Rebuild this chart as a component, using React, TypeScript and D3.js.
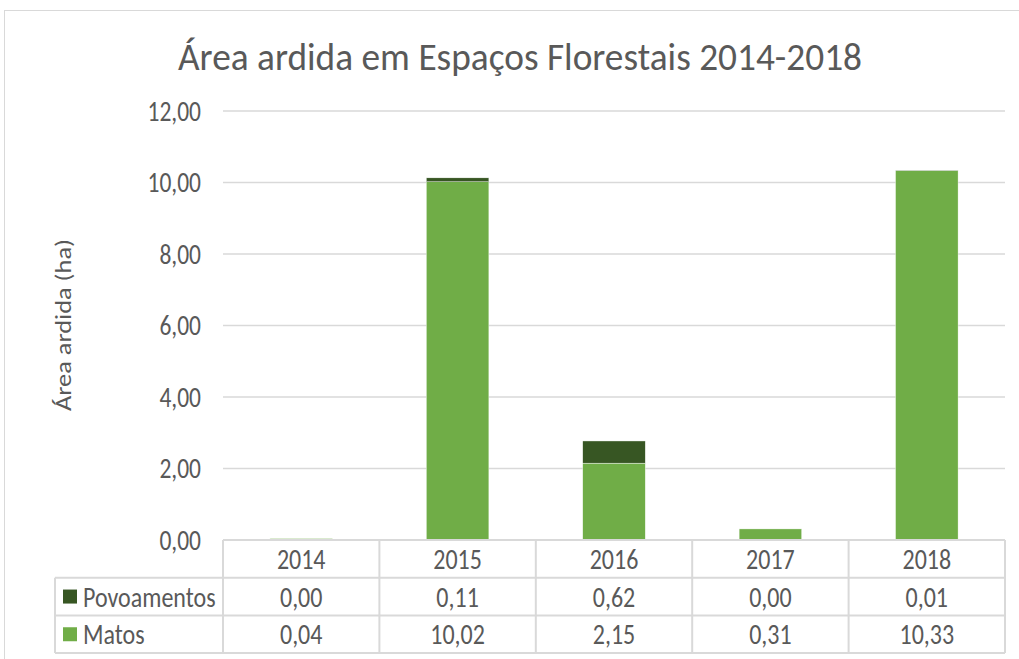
import React from "react";
import * as d3 from "d3";

const years = ["2014", "2015", "2016", "2017", "2018"];
const povoamentos = [0.0, 0.11, 0.62, 0.0, 0.01];
const matos = [0.04, 10.02, 2.15, 0.31, 10.33];
const yTicks = [0, 2, 4, 6, 8, 10, 12];
const seriesNames = ["Povoamentos", "Matos"];
const colors = { Povoamentos: "#375623", Matos: "#70AD47" };

const W = 1019;
const H = 659;
const FONT = "Carlito, Calibri, 'Liberation Sans', Arial, sans-serif";
const TXT = "#595959";
const GRID = "#d9d9d9";
const SY = 1.2;

const fmt = (v: number) => v.toFixed(2).replace(".", ",");

function T({ x, y, size, anchor = "start", rotate = 0, children, tl }: any) {
  return (
    <text
      transform={`translate(${x},${y}) rotate(${rotate}) scale(1,${SY})`}
      textAnchor={anchor}
      dy="0.35em"
      fontSize={size}
      fill={TXT}
      textLength={tl}
      lengthAdjust={tl ? "spacingAndGlyphs" : undefined}
    >
      {children}
    </text>
  );
}

export default function App() {
  const x = d3.scaleBand<string>().domain(years).range([223, 1005]).paddingInner(0.6).paddingOuter(0.3);
  const xc = d3.scaleBand<string>().domain(years).range([223, 1005]);
  const y = d3.scaleLinear().domain([0, 12]).range([540, 111]);

  const rows = years.map((yr, i) => ({ year: yr, Matos: matos[i], Povoamentos: povoamentos[i] }));
  const stack = d3.stack<any>().keys(["Matos", "Povoamentos"])(rows);

  const rowTop = 540, rowH = 37.7;
  const tableBottom = rowTop + rowH * 3;
  const legendLeft = 55;

  return (
    <svg width={W} height={H} style={{ position: "absolute", left: 0, top: 0, background: "#fff" }} fontFamily={FONT}>
      <rect x={4.5} y={10.5} width={W - 2} height={H} fill="#fff" stroke={GRID} strokeWidth={1} />
      <T x={520} y={56} size={33} anchor="middle" tl={684}>
        Área ardida em Espaços Florestais 2014-2018
      </T>
      {yTicks.map((t) => (
        <g key={t}>
          {t > 0 && <line x1={223} x2={1005} y1={y(t)} y2={y(t)} stroke={GRID} strokeWidth={1.5} />}
          <T x={201} y={y(t)} size={23.5} anchor="end">
            {fmt(t)}
          </T>
        </g>
      ))}
      <g transform="translate(63,325) rotate(-90)">
        <text transform={`scale(${SY},1)`} textAnchor="middle" dy="0.35em" fontSize={22} fill={TXT}>
          Área ardida (ha)
        </text>
      </g>
      {stack.map((s) =>
        s.map((d, i) => (
          <rect
            key={s.key + i}
            x={x(years[i])}
            width={x.bandwidth()}
            y={y(d[1])}
            height={Math.max(0, y(d[0]) - y(d[1]))}
            fill={(colors as any)[s.key]}
            stroke="#fff"
            strokeWidth={0.4}
          />
        ))
      )}
      <g stroke={GRID} strokeWidth={2} fill="none">
        <line x1={223} x2={1005} y1={rowTop} y2={rowTop} />
        <line x1={legendLeft} x2={1005} y1={rowTop + rowH} y2={rowTop + rowH} />
        <line x1={legendLeft} x2={1005} y1={rowTop + rowH * 2} y2={rowTop + rowH * 2} />
        <line x1={legendLeft} x2={1005} y1={tableBottom} y2={tableBottom} />
        <line x1={legendLeft} x2={legendLeft} y1={rowTop + rowH} y2={tableBottom} />
        {years.map((yr) => (
          <line key={yr} x1={xc(yr)} x2={xc(yr)} y1={rowTop} y2={tableBottom} />
        ))}
        <line x1={1005} x2={1005} y1={rowTop} y2={tableBottom} />
      </g>
      {years.map((yr) => (
        <T key={yr} x={(xc(yr) as number) + xc.bandwidth() / 2} y={rowTop + rowH / 2} size={24} anchor="middle">
          {yr}
        </T>
      ))}
      {seriesNames.map((name, r) => {
        const vals = name === "Povoamentos" ? povoamentos : matos;
        const cy = rowTop + rowH * (r + 1) + rowH / 2;
        return (
          <g key={name}>
            <rect x={63} y={cy - 7} width={14} height={14} fill={(colors as any)[name]} />
            <T x={83} y={cy} size={24}>
              {name}
            </T>
            {vals.map((v, i) => (
              <T key={i} x={(xc(years[i]) as number) + xc.bandwidth() / 2} y={cy} size={24} anchor="middle">
                {fmt(v)}
              </T>
            ))}
          </g>
        );
      })}
    </svg>
  );
}
